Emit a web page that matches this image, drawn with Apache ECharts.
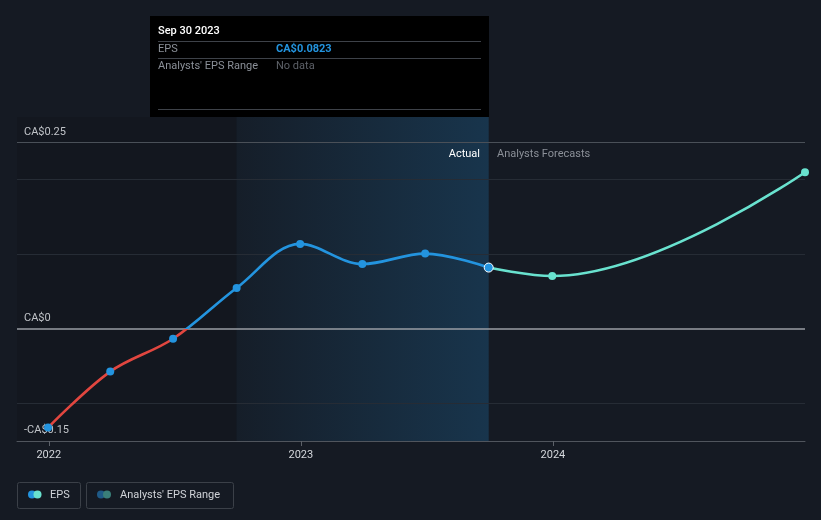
<!DOCTYPE html>
<html>
<head>
<meta charset="utf-8">
<script src="https://cdn.jsdelivr.net/npm/echarts@6/dist/echarts.min.js"></script>
<style>
html,body{margin:0;padding:0;background:#151a23;}
#chart{width:821px;height:520px;}
</style>
</head>
<body>
<div id="chart"></div>
<script>
// ---- data ----
const actualDates = ['2021-12-31','2022-03-31','2022-06-30','2022-09-30','2022-12-31','2023-03-31','2023-06-30','2023-09-30'];
const actualEps = [-0.132, -0.057, -0.013, 0.055, 0.114, 0.087, 0.101, 0.0823];
const forecastDates = ['2023-09-30','2023-12-31','2024-12-31'];
const forecastEps = [0.0823, 0.071, 0.21];
const yearTicks = ['2022-01-01','2023-01-01','2024-01-01'];
const yLabelValues = [-0.15, 0, 0.25];
const gridValues = [0.25, 0.2, 0.1, -0.1];
const tooltipTitle = 'Sep 30 2023';
const tooltipEps = 'CA$0.0823';

const ts = d => new Date(d + 'T00:00:00Z').getTime();
const actualData = actualDates.map((d, i) => [ts(d), actualEps[i]]);
const forecastData = forecastDates.map((d, i) => [ts(d), forecastEps[i]]);

const chart = echarts.init(document.getElementById('chart'), null, {renderer: 'canvas'});
const FONT = 'Roboto, "Noto Sans", sans-serif';
const blue = '#2394df', red = '#e2463f', teal = '#69e2cf';
const xMin = ts('2021-11-16'), xMax = ts('2024-12-31');

// gradient that switches colour where the actual line crosses zero
const maxV = Math.max(...actualEps), minV = Math.min(...actualEps);
const zeroOff = (maxV - 0) / (maxV - minV);
const actualGradient = {
  type: 'linear', x: 0, y: 0, x2: 0, y2: 1,
  colorStops: [
    {offset: 0, color: blue}, {offset: zeroOff, color: blue},
    {offset: zeroOff, color: red}, {offset: 1, color: red}
  ]
};

const gridLines = gridValues.map(v => ({yAxis: v, lineStyle: {color: v === 0.25 ? '#4a5058' : '#262c35', width: 1, type: 'solid'}}));
gridLines.push({yAxis: 0, lineStyle: {color: '#9a9ea5', width: 1.5, type: 'solid'}});

const option = {
  backgroundColor: '#151a23',
  animation: false,
  textStyle: {fontFamily: FONT},
  grid: {left: 17, right: 16, top: 117, bottom: 79, containLabel: false},
  xAxis: {
    type: 'value',
    min: xMin,
    max: xMax,
    splitLine: {show: false},
    axisLine: {show: true, onZero: false, lineStyle: {color: '#50555d', width: 1}},
    axisTick: {show: true, customValues: yearTicks.map(ts), length: 5, lineStyle: {color: '#5c6169'}},
    axisLabel: {
      customValues: yearTicks.map(ts),
      formatter: v => String(new Date(v).getUTCFullYear()),
      color: '#d4d7dc', fontSize: 11, margin: 9, fontFamily: FONT
    }
  },
  yAxis: {
    type: 'value',
    min: -0.15,
    max: 0.284,
    splitLine: {show: false},
    axisLine: {show: false},
    axisTick: {show: false},
    axisLabel: {
      customValues: yLabelValues,
      inside: true,
      margin: 7,
      verticalAlign: 'bottom',
      padding: [0, 0, 5, 0],
      color: '#d4d7dc', fontSize: 11, fontFamily: FONT,
      formatter: v => v < 0 ? '-CA$' + Math.abs(v) : 'CA$' + v
    }
  },
  series: [
    {
      type: 'line',
      data: actualData,
      smooth: 0.35,
      showSymbol: false,
      symbol: 'none',
      lineStyle: {width: 2.6, color: actualGradient},
      z: 4,
      markArea: {
        silent: true,
        data: [
          [{xAxis: xMin, itemStyle: {color: 'rgba(0,0,0,0.09)'}}, {xAxis: ts('2022-09-30')}],
          [{xAxis: ts('2022-09-30'), itemStyle: {color: {
            type: 'linear', x: 0, y: 0, x2: 1, y2: 0,
            colorStops: [{offset: 0, color: 'rgba(35,148,223,0.03)'}, {offset: 1, color: 'rgba(35,148,223,0.22)'}]
          }}}, {xAxis: ts('2023-09-30')}]
        ]
      }
    },
    {
      type: 'line',
      data: forecastData,
      smooth: 0.4,
      symbol: 'circle',
      symbolSize: 8,
      showSymbol: true,
      itemStyle: {color: teal, opacity: 1},
      lineStyle: {width: 2.6, color: teal},
      z: 3,
      markLine: {
        silent: true,
        symbol: 'none',
        label: {show: false},
        z: 1,
        data: gridLines
      }
    },
    {
      type: 'scatter',
      data: actualData.slice(0, -1),
      symbolSize: 8,
      itemStyle: {color: blue, opacity: 1},
      z: 5
    },
    {
      type: 'scatter',
      data: actualData.slice(-1),
      symbolSize: 9,
      itemStyle: {color: blue, borderColor: '#ffffff', borderWidth: 1, opacity: 1},
      z: 6
    }
  ],
  graphic: [
    {type: 'text', x: 480, y: 154, style: {text: 'Actual', fill: '#ffffff', font: '11px ' + FONT, align: 'right', verticalAlign: 'middle'}, z: 10},
    {type: 'text', x: 497, y: 154, style: {text: 'Analysts Forecasts', fill: '#8b9098', font: '11px ' + FONT, align: 'left', verticalAlign: 'middle'}, z: 10},
    {type: 'rect', shape: {x: 150, y: 16, width: 339, height: 101}, style: {fill: '#000000'}, z: 20},
    {type: 'text', x: 158, y: 31, style: {text: tooltipTitle, fill: '#ffffff', font: '500 11px ' + FONT, verticalAlign: 'middle'}, z: 21},
    {type: 'line', shape: {x1: 158, y1: 41.5, x2: 481, y2: 41.5}, style: {stroke: '#3e4249', lineWidth: 1}, z: 21},
    {type: 'text', x: 158, y: 49, style: {text: 'EPS', fill: '#8b9098', font: '11px ' + FONT, verticalAlign: 'middle'}, z: 21},
    {type: 'text', x: 276, y: 49, style: {text: tooltipEps, fill: blue, font: 'bold 11px ' + FONT, verticalAlign: 'middle'}, z: 21},
    {type: 'line', shape: {x1: 158, y1: 58.5, x2: 481, y2: 58.5}, style: {stroke: '#3e4249', lineWidth: 1}, z: 21},
    {type: 'text', x: 158, y: 66, style: {text: "Analysts' EPS Range", fill: '#8b9098', font: '11px ' + FONT, verticalAlign: 'middle'}, z: 21},
    {type: 'text', x: 276, y: 66, style: {text: 'No data', fill: '#5d6168', font: '11px ' + FONT, verticalAlign: 'middle'}, z: 21},
    {type: 'line', shape: {x1: 158, y1: 109.5, x2: 481, y2: 109.5}, style: {stroke: '#3e4249', lineWidth: 1}, z: 21},
    {type: 'rect', shape: {x: 17.5, y: 482.5, width: 63, height: 26, r: 2}, style: {fill: 'none', stroke: '#3b4048', lineWidth: 1}, z: 10},
    {type: 'circle', shape: {cx: 32, cy: 494.5, r: 4}, style: {fill: blue}, z: 11},
    {type: 'circle', shape: {cx: 37.5, cy: 494.5, r: 4}, style: {fill: teal}, z: 12},
    {type: 'text', x: 50, y: 495, style: {text: 'EPS', fill: '#d0d3d8', font: '11px ' + FONT, verticalAlign: 'middle'}, z: 11},
    {type: 'rect', shape: {x: 86.5, y: 482.5, width: 147, height: 26, r: 2}, style: {fill: 'none', stroke: '#3b4048', lineWidth: 1}, z: 10},
    {type: 'circle', shape: {cx: 101, cy: 494.5, r: 4}, style: {fill: '#1f5a87'}, z: 11},
    {type: 'circle', shape: {cx: 107, cy: 494.5, r: 4}, style: {fill: '#3a7f79'}, z: 12},
    {type: 'text', x: 120, y: 495, style: {text: "Analysts' EPS Range", fill: '#d0d3d8', font: '11px ' + FONT, verticalAlign: 'middle'}, z: 11}
  ]
};
chart.setOption(option);
</script>
</body>
</html>
